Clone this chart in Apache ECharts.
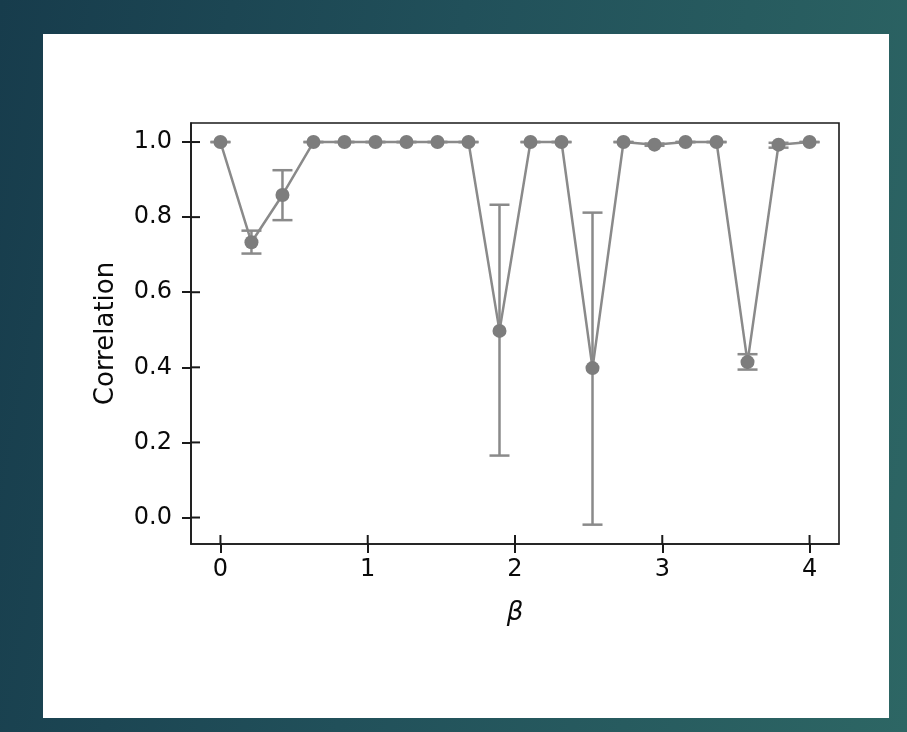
<!DOCTYPE html>
<html>
<head>
<meta charset="utf-8">
<script src="https://cdn.jsdelivr.net/npm/echarts@6/dist/echarts.min.js"></script>
<style>
  html, body { margin: 0; padding: 0; width: 907px; height: 732px; overflow: hidden; }
  body { background: linear-gradient(100deg, #173c4c 0%, #21505a 45%, #2d6664 100%); position: relative; }
  #panel { position: absolute; left: 43px; top: 34px; width: 846px; height: 684px; background: #ffffff; }
  #chart { position: absolute; left: 0; top: 0; width: 907px; height: 732px; }
</style>
</head>
<body>
<div id="panel"></div>
<div id="chart"></div>
<script>
// ---- data ----
const beta = [0, 0.2105, 0.4211, 0.6316, 0.8421, 1.0526, 1.2632, 1.4737, 1.6842, 1.8947,
              2.1053, 2.3158, 2.5263, 2.7368, 2.9474, 3.1579, 3.3684, 3.5789, 3.7895, 4.0];
const correlation = [1.0, 0.733, 0.859, 1.0, 1.0, 1.0, 1.0, 1.0, 1.0, 0.497,
                     1.0, 1.0, 0.398, 1.0, 0.993, 1.0, 1.0, 0.414, 0.993, 1.0];
const errLow  = [1.0, 0.703, 0.792, 1.0, 1.0, 1.0, 1.0, 1.0, 1.0, 0.165,
                 1.0, 1.0, -0.019, 1.0, 0.990, 1.0, 1.0, 0.394, 0.985, 1.0];
const errHigh = [1.0, 0.764, 0.925, 1.0, 1.0, 1.0, 1.0, 1.0, 1.0, 0.833,
                 1.0, 1.0, 0.812, 1.0, 0.996, 1.0, 1.0, 0.435, 0.998, 1.0];
const xTicks = [0, 1, 2, 3, 4];
const yTicks = [0.0, 0.2, 0.4, 0.6, 0.8, 1.0];

const X_MIN = -0.2, X_MAX = 4.2, Y_MIN = -0.0705, Y_MAX = 1.0507;

const chart = echarts.init(document.getElementById('chart'), null, { renderer: 'canvas' });

const txt = '#0a0a0a';
const axisCol = '#1a1a1a';
const fontFam = '"DejaVu Sans", sans-serif';
const tickLen = 9;

const pts = beta.map((b, i) => [b, correlation[i]]);
const errs = beta.map((b, i) => [b, errLow[i], errHigh[i]]);

chart.setOption({
  animation: false,
  backgroundColor: 'transparent',
  grid: { left: 191, top: 123, width: 648, height: 421, show: true,
          borderColor: axisCol, borderWidth: 1.6, backgroundColor: 'transparent' },
  xAxis: {
    type: 'value', min: X_MIN, max: X_MAX, position: 'bottom',
    axisLine: { show: true, onZero: false, lineStyle: { color: axisCol, width: 1.6 } },
    axisTick: { show: true, length: tickLen, customValues: xTicks,
                lineStyle: { color: axisCol, width: 2 } },
    axisLabel: { customValues: xTicks, margin: 14, color: txt,
                 fontSize: 24, fontFamily: fontFam, formatter: v => String(Math.round(v)) },
    splitLine: { show: false },
    name: 'β', nameLocation: 'middle', nameGap: 56,
    nameTextStyle: { color: txt, fontSize: 26, fontFamily: fontFam, fontStyle: 'italic' }
  },
  yAxis: {
    type: 'value', min: Y_MIN, max: Y_MAX, position: 'left',
    axisLine: { show: true, onZero: false, lineStyle: { color: axisCol, width: 1.6 } },
    axisTick: { show: true, length: tickLen, customValues: yTicks,
                lineStyle: { color: axisCol, width: 2 } },
    axisLabel: { customValues: yTicks, margin: 19, color: txt,
                 fontSize: 24, fontFamily: fontFam, formatter: v => v.toFixed(1) },
    splitLine: { show: false },
    name: 'Correlation', nameLocation: 'middle', nameGap: 72,
    nameTextStyle: { color: txt, fontSize: 26, fontFamily: fontFam }
  },
  series: [
    {
      type: 'custom', z: 2,
      data: errs,
      encode: { x: 0, y: [1, 2] },
      renderItem: function (params, api) {
        const x = api.value(0);
        const lo = api.coord([x, api.value(1)]);
        const hi = api.coord([x, api.value(2)]);
        const hw = 10;
        const st = { stroke: '#8a8a8a', lineWidth: 2.5 };
        return {
          type: 'group',
          children: [
            { type: 'line', shape: { x1: lo[0], y1: lo[1], x2: hi[0], y2: hi[1] }, style: st },
            { type: 'line', shape: { x1: lo[0] - hw, y1: lo[1], x2: lo[0] + hw, y2: lo[1] }, style: st },
            { type: 'line', shape: { x1: hi[0] - hw, y1: hi[1], x2: hi[0] + hw, y2: hi[1] }, style: st }
          ]
        };
      }
    },
    {
      type: 'line', z: 3,
      data: pts,
      symbol: 'circle', symbolSize: 14, showSymbol: true,
      itemStyle: { color: '#7d7d7d', borderWidth: 0 },
      lineStyle: { color: '#8a8a8a', width: 2.5 }
    },
    {
      // inner half of the matplotlib "inout" x ticks
      type: 'custom', z: 4, silent: true, clip: false,
      data: xTicks.map(v => [v, Y_MIN]), encode: { x: 0, y: 1 },
      renderItem: function (params, api) {
        const p = api.coord([api.value(0), Y_MIN]);
        return { type: 'line', shape: { x1: p[0], y1: p[1], x2: p[0], y2: p[1] - tickLen },
                 style: { stroke: axisCol, lineWidth: 2 } };
      }
    },
    {
      // inner half of the matplotlib "inout" y ticks
      type: 'custom', z: 4, silent: true, clip: false,
      data: yTicks.map(v => [X_MIN, v]), encode: { x: 0, y: 1 },
      renderItem: function (params, api) {
        const p = api.coord([X_MIN, api.value(1)]);
        return { type: 'line', shape: { x1: p[0], y1: p[1], x2: p[0] + tickLen, y2: p[1] },
                 style: { stroke: axisCol, lineWidth: 2 } };
      }
    }
  ]
});
</script>
</body>
</html>
